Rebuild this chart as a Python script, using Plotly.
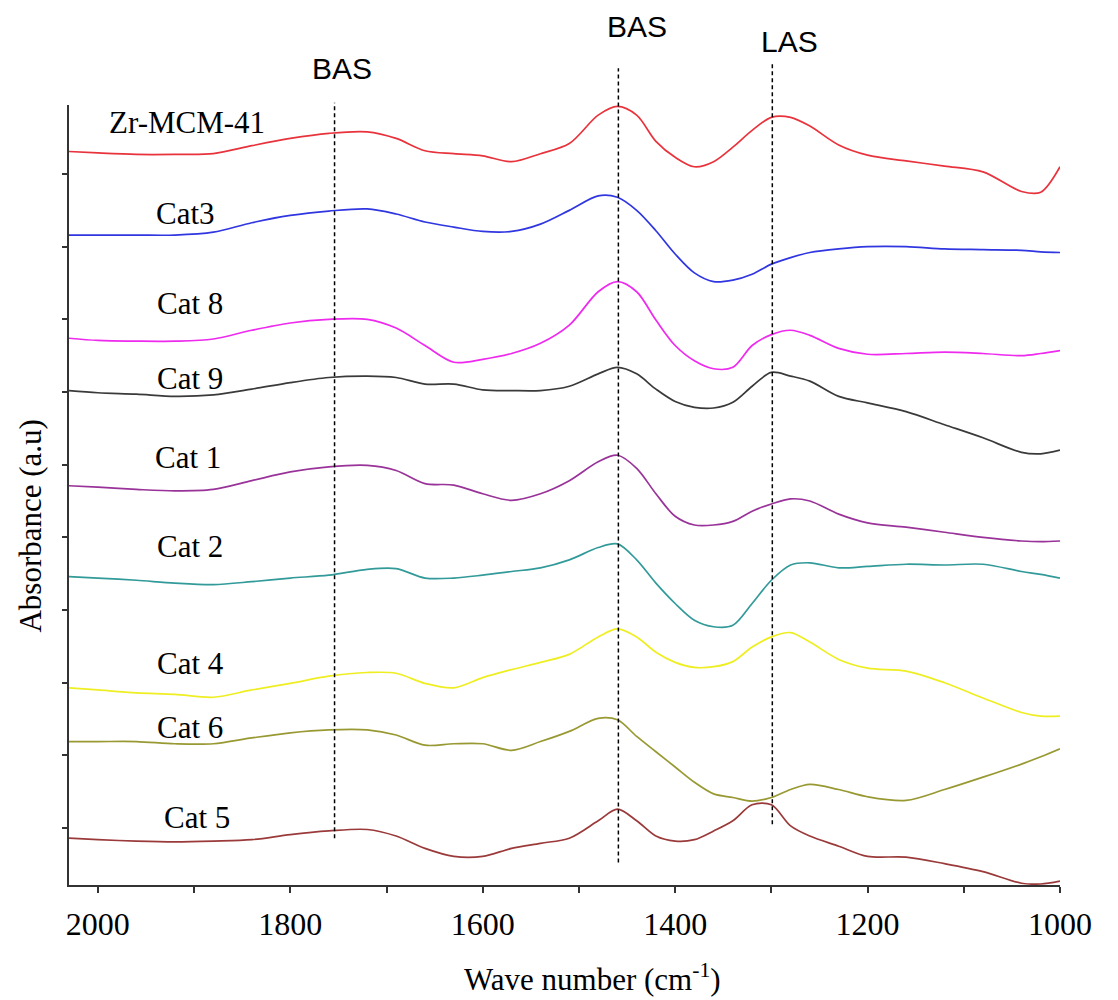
import plotly.graph_objects as go

# Wavenumber grid (cm-1)
wavenumber = [2030, 2000, 1960, 1920, 1880, 1840, 1800, 1760, 1720, 1690, 1660, 1630,
              1600, 1570, 1540, 1510, 1480, 1460, 1440, 1420, 1400, 1380, 1360, 1340,
              1320, 1300, 1280, 1260, 1230, 1200, 1160, 1120, 1080, 1040, 1020, 1000]

zr_mcm41 = [10.31, 10.29, 10.27, 10.27, 10.28, 10.39, 10.49, 10.56, 10.58, 10.49, 10.32, 10.28,
            10.25, 10.17, 10.28, 10.42, 10.81, 10.93, 10.81, 10.45, 10.23, 10.10, 10.17, 10.37,
            10.60, 10.78, 10.78, 10.66, 10.40, 10.26, 10.18, 10.11, 10.03, 9.76, 9.75, 10.10]
cat3 = [9.16, 9.16, 9.16, 9.16, 9.20, 9.33, 9.43, 9.49, 9.52, 9.45, 9.34, 9.27,
        9.21, 9.21, 9.31, 9.50, 9.70, 9.68, 9.50, 9.22, 8.90, 8.64, 8.52, 8.54,
        8.62, 8.76, 8.85, 8.92, 8.97, 9.00, 9.00, 8.97, 8.96, 8.95, 8.93, 8.92]
cat8 = [7.74, 7.71, 7.70, 7.70, 7.73, 7.85, 7.95, 8.00, 8.00, 7.88, 7.64, 7.41,
        7.45, 7.53, 7.67, 7.92, 8.38, 8.52, 8.38, 7.99, 7.64, 7.43, 7.32, 7.34,
        7.64, 7.79, 7.85, 7.78, 7.60, 7.52, 7.53, 7.55, 7.53, 7.50, 7.53, 7.57]
cat9 = [7.02, 6.99, 6.97, 6.94, 6.96, 7.04, 7.13, 7.20, 7.22, 7.20, 7.11, 7.11,
        7.03, 7.02, 7.02, 7.08, 7.25, 7.34, 7.25, 7.04, 6.87, 6.79, 6.78, 6.86,
        7.08, 7.27, 7.22, 7.15, 6.94, 6.85, 6.73, 6.55, 6.37, 6.17, 6.15, 6.20]
cat1 = [5.71, 5.69, 5.66, 5.64, 5.66, 5.78, 5.90, 5.97, 5.99, 5.92, 5.74, 5.72,
        5.60, 5.51, 5.60, 5.78, 6.04, 6.13, 5.95, 5.60, 5.29, 5.17, 5.17, 5.22,
        5.36, 5.46, 5.53, 5.50, 5.32, 5.20, 5.14, 5.07, 5.00, 4.95, 4.94, 4.95]
cat2 = [4.46, 4.44, 4.41, 4.37, 4.35, 4.39, 4.44, 4.48, 4.56, 4.57, 4.44, 4.44,
        4.48, 4.53, 4.58, 4.69, 4.86, 4.91, 4.69, 4.37, 4.09, 3.86, 3.77, 3.79,
        4.09, 4.41, 4.62, 4.65, 4.58, 4.60, 4.63, 4.62, 4.63, 4.53, 4.49, 4.44]
cat4 = [2.93, 2.90, 2.86, 2.84, 2.80, 2.90, 2.99, 3.09, 3.14, 3.13, 2.99, 2.93,
        3.07, 3.18, 3.28, 3.39, 3.63, 3.74, 3.63, 3.42, 3.28, 3.21, 3.22, 3.29,
        3.49, 3.63, 3.69, 3.56, 3.32, 3.20, 3.16, 3.00, 2.79, 2.59, 2.54, 2.54]
cat6 = [2.19, 2.19, 2.19, 2.16, 2.16, 2.24, 2.31, 2.35, 2.35, 2.28, 2.14, 2.16,
        2.16, 2.07, 2.19, 2.33, 2.51, 2.49, 2.26, 2.05, 1.84, 1.63, 1.47, 1.42,
        1.37, 1.42, 1.53, 1.60, 1.53, 1.43, 1.38, 1.53, 1.70, 1.88, 1.98, 2.09]
cat5 = [0.86, 0.84, 0.82, 0.81, 0.82, 0.84, 0.91, 0.96, 0.98, 0.89, 0.72, 0.61,
        0.61, 0.72, 0.79, 0.86, 1.10, 1.26, 1.10, 0.89, 0.82, 0.84, 0.96, 1.10,
        1.32, 1.32, 1.03, 0.89, 0.75, 0.61, 0.60, 0.51, 0.40, 0.24, 0.23, 0.27]

series_names = ["Zr-MCM-41", "Cat3", "Cat 8", "Cat 9", "Cat 1", "Cat 2", "Cat 4", "Cat 6", "Cat 5"]
series_values = [zr_mcm41, cat3, cat8, cat9, cat1, cat2, cat4, cat6, cat5]
series_colors = ["#e8333c", "#3036e0", "#ee2aee", "#3a3a3a", "#993399",
                 "#339a9a", "#eeee22", "#999933", "#9b3a3a"]
# label anchor (wavenumber, absorbance) for each series name
label_x = [1907, 1909, 1904, 1904, 1906, 1904, 1904, 1904, 1897]
label_y = [10.71, 9.46, 8.22, 7.18, 6.10, 4.87, 3.27, 2.39, 1.15]

# Band positions (cm-1)
band_names = ["BAS", "BAS", "LAS"]
band_positions = [1754, 1459, 1299]

x_tick_labels = [2000, 1800, 1600, 1400, 1200, 1000]

SERIF = "Liberation Serif"
SANS = "Liberation Sans"

fig = go.Figure()
for name, vals, col in zip(series_names, series_values, series_colors):
    fig.add_trace(go.Scatter(x=wavenumber, y=vals, mode="lines", name=name,
                             line=dict(color=col, width=1.7, shape="spline", smoothing=0.9)))

annotations = []
for name, lx, ly in zip(series_names, label_x, label_y):
    annotations.append(dict(x=lx, y=ly, xref="x", yref="y", text=name, showarrow=False,
                            xanchor="center", yanchor="middle",
                            font=dict(family=SERIF, size=31, color="black")))

# dashed band lines (vertical extents in paper units)
band_line_y = [(0.060, 1.003), (0.029, 1.047), (0.078, 1.054)]
band_label_pos = [(0.2755, 1.047), (0.573, 1.10), (0.7275, 1.081)]
shapes = []
for bx, (y0, y1), (tx, ty), bn in zip(band_positions, band_line_y, band_label_pos, band_names):
    shapes.append(dict(type="line", xref="x", yref="paper", x0=bx, x1=bx, y0=y0, y1=y1,
                       line=dict(color="black", width=1.5, dash="4px,3px")))
    annotations.append(dict(x=tx, y=ty, xref="paper", yref="paper", text=bn, showarrow=False,
                            xanchor="center", yanchor="middle",
                            font=dict(family=SANS, size=30, color="black")))

annotations.append(dict(x=0.528, y=-0.119, xref="paper", yref="paper",
                        text="Wave number (cm<sup>-1</sup>)", showarrow=False,
                        xanchor="center", yanchor="middle",
                        font=dict(family=SERIF, size=31, color="black")))
annotations.append(dict(x=-0.039, y=0.46, xref="paper", yref="paper",
                        text="Absorbance (a.u)", showarrow=False, textangle=-90,
                        xanchor="center", yanchor="middle",
                        font=dict(family=SERIF, size=31, color="black")))

fig.update_layout(
    width=1118, height=1000,
    margin=dict(l=69, r=58, t=105, b=115),
    paper_bgcolor="white", plot_bgcolor="white",
    showlegend=False,
    font=dict(family=SERIF, color="black"),
    shapes=shapes, annotations=annotations,
    xaxis=dict(range=[2030, 1000], tickvals=x_tick_labels,
               ticktext=[str(v) for v in x_tick_labels],
               showgrid=False, zeroline=False, showline=True, linecolor="#333333", linewidth=2,
               ticks="outside", ticklen=6, tickwidth=1.5, tickcolor="#333333",
               ticklabelstandoff=4,
               tickfont=dict(family=SERIF, size=32, color="black"),
               minor=dict(dtick=100, tick0=1000, ticks="outside", ticklen=6, tickwidth=1.5,
                          tickcolor="#333333", showgrid=False)),
    yaxis=dict(range=[0.216, 10.95], tick0=0, dtick=1, showticklabels=False,
               showgrid=False, zeroline=False, showline=True, linecolor="#333333", linewidth=2,
               ticks="outside", ticklen=5, tickwidth=1.5, tickcolor="#333333"),
)

fig.write_html("out.html")
